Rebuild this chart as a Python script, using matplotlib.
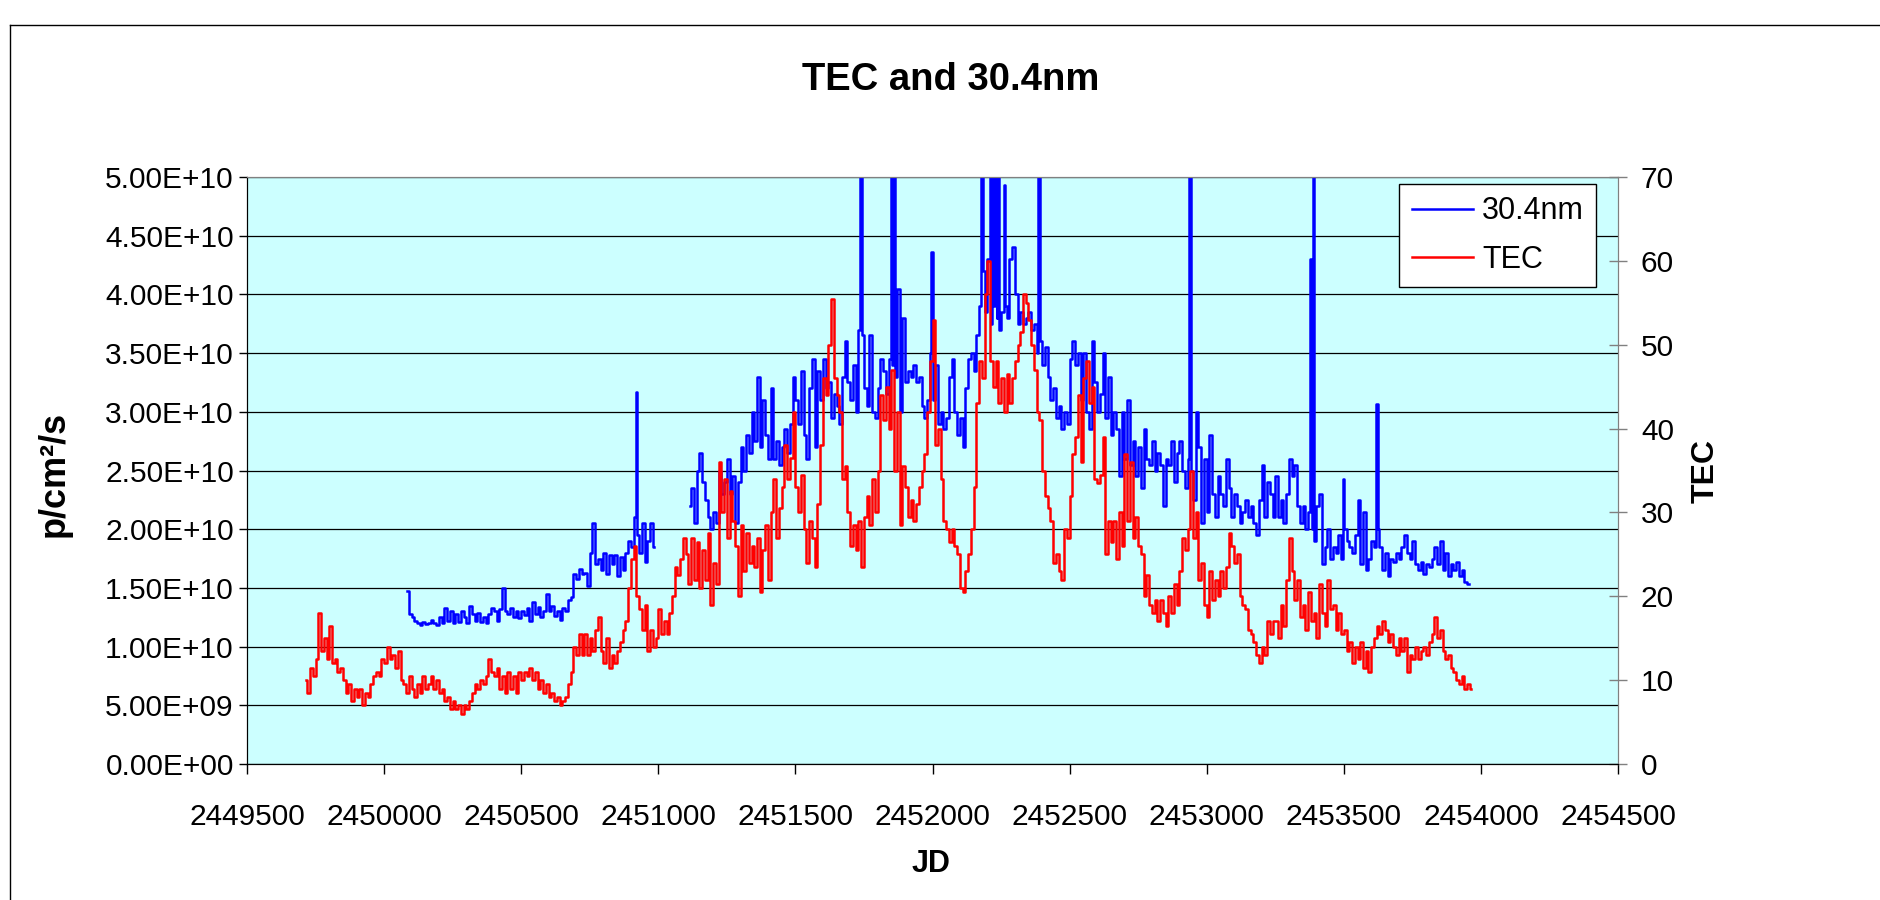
import numpy as np
import matplotlib
matplotlib.use("Agg")
import matplotlib.pyplot as plt
from matplotlib.lines import Line2D
from matplotlib.ticker import FuncFormatter

plt.rcParams['font.family'] = ['Liberation Sans', 'DejaVu Sans']

# TEC, one value every 10 days from JD 2449715
tec_start = 2449715
tec = [
    10, 8.5, 11.5, 10.5, 12.5, 18, 13.5, 15, 12.5, 16.5,
    12, 12.5, 11, 11.5, 10, 8.5, 9.5, 7.5, 9, 8,
    9, 7, 8.5, 8, 9.5, 10.5, 11, 10.5, 12.5, 12,
    14, 12.5, 13, 11.5, 13.5, 10, 9.5, 8.5, 10.5, 9,
    8, 9.5, 8.5, 10.5, 9, 9.5, 10.5, 9, 10, 8.5,
    9, 7.5, 8, 6.5, 7.5, 6.5, 7, 6, 7, 6.5,
    7.5, 8.5, 9.5, 9, 10, 9.5, 10.5, 12.5, 11, 10.5,
    # 2450415
    11.5, 9, 10.5, 8.5, 11, 9, 10.5, 8.5, 11, 10,
    11, 10.5, 11.5, 10, 11, 9, 10, 8.5, 9.5, 8,
    8.5, 7.5, 8, 7, 7.5, 8, 9.5, 11, 14, 13,
    15.5, 13, 15.5, 13, 15, 13.5, 16, 17.5, 13.5, 12,
    15, 11.5, 13, 12, 13.5, 14.5, 16, 17, 21, 24.5,
    26, 20, 18.5, 16, 19, 13.5, 16, 14, 15, 18.5,
    15.5, 17, 15.5, 18, 20, 23.5, 22.5, 24.5, 27,
    # 2451105
    25, 21.5, 27, 22, 26.5, 21, 25.5, 22, 27.5, 19,
    24, 21.5, 36, 30, 34, 27, 32.5, 29, 26, 20,
    28.5, 23, 27.5, 24, 26, 23.5, 27, 20.5, 25.5, 28.5,
    22, 30, 34, 27, 30.5, 33, 38, 34, 36.5, 42,
    33, 30, 34.5, 28, 24, 29, 27, 23.5, 31, 38,
    46, 44, 50, 55.5, 46, 44, 42, 34, 35.5, 30,
    26, 28.5, 25.5, 29, 23.5, 29.5, 32, 28.5, 34, 30,
    35, 44,
    # 2451825
    41, 45, 40, 47, 35, 42, 28.5, 35.5, 33, 29.5,
    31.5, 29, 31, 33, 35, 37, 42, 48, 53, 38,
    40, 34, 29, 28, 26.5, 28, 26, 25, 21, 20.5,
    23, 25, 28, 33, 43, 48, 46, 56, 60, 48,
    45, 48, 43, 46, 42, 46.5, 43, 46, 48, 50,
    51.5, 56, 55, 53, 50, 47, 42, 41, 35, 32,
    30.5, 29, 24, 25, 23, 22, 28, 27, 32, 37,
    39, 44,
    # 2452545
    36, 46, 48, 43, 45, 34, 33.5, 34.5, 39, 25,
    29, 26.5, 29, 24.5, 30, 26, 37, 29, 36, 27,
    29.5, 26, 25, 20, 22.5, 19, 18, 19.5, 17, 19.5,
    18, 16.5, 20, 18, 21.5, 19, 23, 27, 25.5, 28,
    35, 27, 30, 22, 24, 19, 17.5, 23, 19.5, 22,
    20, 23, 21, 23.5, 27.5, 26, 24, 25, 20, 19,
    18.5, 16, 15.5, 14.5, 13, 12, 14, 13, 17, 15.5,
    17,
    # 2453255
    17, 15, 19, 16.5, 22, 27, 23, 19.5, 22, 17.5,
    19, 16, 20.5, 17, 18, 15, 21.5, 18, 16.5, 22,
    18.5, 19, 16, 18, 15.5, 16, 13.5, 14.5, 12, 14,
    12.5, 14.5, 11.5, 13.5, 11, 14, 15, 16.5, 15.5, 17,
    16, 14.5, 15.5, 14, 13, 15, 13.5, 15, 11, 13,
    12.5, 14, 12.5, 13.5, 14, 13, 14.5, 15.5, 17.5, 15,
    16, 13.5, 12.5, 13, 11.5, 11, 10, 9.5, 10.5, 9,
    9.5, 9,
]

# 30.4nm flux in units of 1e10 p/cm2/s, every 10 days, gap in between
flux_a_start = 2450085
flux_a = [
    1.47, 1.28, 1.25, 1.22, 1.2, 1.18, 1.21, 1.19, 1.2, 1.23,
    1.2, 1.18, 1.25, 1.2, 1.33, 1.22, 1.3, 1.2, 1.28, 1.21,
    1.3, 1.25, 1.2, 1.35, 1.28, 1.22, 1.29, 1.21, 1.25, 1.2,
    1.28, 1.33,
    1.3, 1.22, 1.32, 1.5, 1.3, 1.28, 1.33, 1.25, 1.3, 1.24,
    1.3, 1.27, 1.33, 1.22, 1.38, 1.28, 1.34, 1.25, 1.3, 1.45,
    1.3, 1.35, 1.26, 1.3, 1.23, 1.33, 1.3, 1.4, 1.42, 1.62,
    1.58, 1.66, 1.62, 1.63, 1.52, 1.8, 2.05, 1.7, 1.75, 1.65,
    1.8, 1.62, 1.78, 1.7, 1.78, 1.6, 1.76, 1.65, 1.8, 1.9,
    1.85, 2.1, 1.95, 1.8, 2.05, 1.72, 1.9, 2.05, 1.85,
]
flux_b_start = 2451115
flux_b = [
    2.2, 2.35, 2.05, 2.5, 2.65, 2.4, 2.25, 2.1, 2.0, 2.15,
    2.05, 2.5, 2.3, 2.4, 2.6, 2.3, 2.45, 2.05, 2.4, 2.7,
    2.5, 2.8, 2.65, 3.0, 2.75, 3.3, 2.7, 3.1, 2.8, 2.6,
    3.2, 2.6, 2.75, 2.55, 2.7, 2.85, 2.65, 2.9, 3.3, 3.1,
    2.9, 3.35, 2.8, 2.6, 3.2, 3.45, 2.7, 3.35, 3.1, 3.45,
    3.2, 3.25, 2.95, 3.15, 3.05, 2.9, 3.3, 3.6, 3.25, 3.1,
    3.4, 3.0, 3.7, 3.65, 3.2, 3.05, 3.65, 3.0, 2.95, 3.2,
    3.45,
    3.35, 3.15, 3.45, 3.4, 3.3, 4.05, 3.0, 3.8, 3.25, 3.35,
    3.3, 3.4, 3.25, 3.3, 3.05, 2.95, 3.1, 3.5, 3.1, 3.4,
    2.9, 3.0, 2.85, 2.95, 3.3, 3.45, 3.0, 2.8, 2.95, 2.7,
    3.2, 3.45, 3.5, 3.35, 3.65, 3.9, 4.2, 3.85, 4.3, 3.75,
    3.9, 3.8, 3.7, 3.85, 3.9, 3.8, 4.3, 4.4, 4.0, 3.75,
    3.85, 3.75, 3.8, 3.85, 3.7, 3.75, 3.5, 3.6, 3.4, 3.55,
    3.3, 3.1, 3.2, 2.95, 3.05, 2.85, 3.0, 2.9, 3.45, 3.6,
    3.4, 3.5,
    3.1, 3.5, 3.0, 2.85, 3.6, 3.25, 3.0, 3.15, 3.5, 2.95,
    3.3, 2.8, 3.0, 2.85, 2.45, 3.0, 2.6, 3.1, 2.55, 2.75,
    2.45, 2.7, 2.35, 2.85, 2.6, 2.55, 2.75, 2.5, 2.65, 2.55,
    2.2, 2.6, 2.55, 2.75, 2.4, 2.65, 2.75, 2.5, 2.35, 2.6,
    2.5, 2.25, 3.0, 2.7, 2.05, 2.6, 2.15, 2.8, 2.3, 2.1,
    2.45, 2.3, 2.2, 2.6, 2.35, 2.1, 2.3, 2.2, 2.05, 2.15,
    2.25, 2.1, 2.2, 2.05, 1.95, 2.25, 2.55, 2.1, 2.4, 2.3,
    2.1,
    2.45, 2.1, 2.25, 2.05, 2.3, 2.6, 2.45, 2.55, 2.2, 2.05,
    2.2, 2.0, 2.15, 2.0, 1.9, 2.2, 2.3, 1.7, 1.85, 2.0,
    1.75, 1.85, 1.8, 1.95, 1.75, 2.0, 1.9, 1.85, 1.8, 1.95,
    2.25, 1.7, 2.15, 1.65, 1.75, 1.9, 1.85, 2.0, 1.85, 1.65,
    1.8, 1.6, 1.75, 1.72, 1.8, 1.75, 1.85, 1.95, 1.8, 1.75,
    1.9, 1.7, 1.65, 1.72, 1.62, 1.7, 1.68, 1.75, 1.85, 1.7,
    1.9, 1.65, 1.8, 1.6, 1.7, 1.65, 1.72, 1.6, 1.65, 1.55,
    1.53,
]
# one-day flares in the 30.4nm series (6.0 = off the top of the scale)
spike_jd = [2450923, 2451739, 2451850, 2451862, 2451996, 2452176, 2452183,
            2452212, 2452218, 2452232, 2452238, 2452265, 2452386, 2452936,
            2452941, 2453380, 2453387, 2453498, 2453622]
spike_val = [3.17, 6.0, 6.0, 6.0, 4.36, 6.0, 6.0,
             6.0, 6.0, 6.0, 6.0, 4.93, 6.0, 6.0,
             6.0, 4.3, 6.0, 2.43, 3.07]

tec_jd = tec_start + 10 * np.arange(len(tec))


def with_spikes(start, vals):
    jd = start + 10 * np.arange(len(vals))
    sj = np.array(spike_jd)
    keep = (sj > jd[0]) & (sj < jd[-1])
    jd = np.concatenate([jd, sj[keep]])
    v = np.concatenate([vals, np.array(spike_val)[keep]])
    o = np.argsort(jd)
    return jd[o], v[o] * 1e10


W, H = 1881, 900
fig = plt.figure(figsize=(W / 100, H / 100), dpi=100)
ax = fig.add_axes([247 / W, 1 - 764 / H, 1371 / W, 587 / H])
ax.set_facecolor('#CCFFFF')
ax2 = ax.twinx()

for start, vals in [(flux_a_start, flux_a), (flux_b_start, flux_b)]:
    jd, v = with_spikes(start, vals)
    l1, = ax.plot(jd, v, color='#0000FF', lw=1.8, drawstyle='steps-mid')
l2, = ax2.plot(tec_jd, tec, color='#FF0000', lw=1.8, drawstyle='steps-mid')

ax.set_xlim(2449500, 2454500)
ax.set_ylim(0, 5e10)
ax2.set_ylim(0, 70)
ax.set_xticks(np.arange(2449500, 2454501, 500))
ax.xaxis.set_major_formatter(FuncFormatter(lambda v, p: f"{int(round(v))}"))
ax.set_yticks(np.arange(0, 5.01e10, 5e9))
ax.yaxis.set_major_formatter(FuncFormatter(lambda v, p: f"{v:.2E}"))
ax2.set_yticks(np.arange(0, 71, 10))
ax.grid(axis='y', color='black', lw=0.9)

ax.tick_params(axis='y', direction='out', length=6, width=1, pad=3.5, labelsize=21.5)
ax.tick_params(axis='x', direction='out', length=7, width=1, pad=21, labelsize=21.5)
ax2.tick_params(axis='y', direction='inout', length=13, width=1, pad=10,
                labelsize=21.5, color='#808080')

for a in (ax, ax2):
    a.spines['top'].set_color('#808080')
    a.spines['right'].set_color('#808080')
    a.spines['left'].set_color('black')
    a.spines['bottom'].set_color('black')

ax2.legend([l1, l2], ['30.4nm', 'TEC'], loc='upper right',
           bbox_to_anchor=(1596 / W, 1 - 184 / H), bbox_transform=fig.transFigure,
           fancybox=False, edgecolor='black', framealpha=1, fontsize=22,
           handlelength=2.0, handletextpad=0.3, borderpad=0.4,
           labelspacing=0.6, borderaxespad=0)

fig.text(951 / W, 1 - 80 / H, 'TEC and 30.4nm', ha='center', va='center',
         fontsize=27.5, fontweight='bold')
fig.text(931 / W, 1 - 864 / H, 'JD', ha='center', va='center',
         fontsize=22, fontweight='bold')
fig.text(54 / W, 1 - 474 / H, 'p/cm²/s', ha='center', va='center',
         rotation=90, fontsize=26, fontweight='bold')
fig.text(1706 / W, 1 - 471 / H, 'TEC', ha='center', va='center',
         rotation=90, fontsize=23, fontweight='bold')

# chart frame
fig.add_artist(Line2D([10 / W, 1], [1 - 25 / H, 1 - 25 / H], color='black', lw=1))
fig.add_artist(Line2D([10 / W, 10 / W], [0, 1 - 25 / H], color='black', lw=1))

fig.savefig('out.png', dpi=100)
